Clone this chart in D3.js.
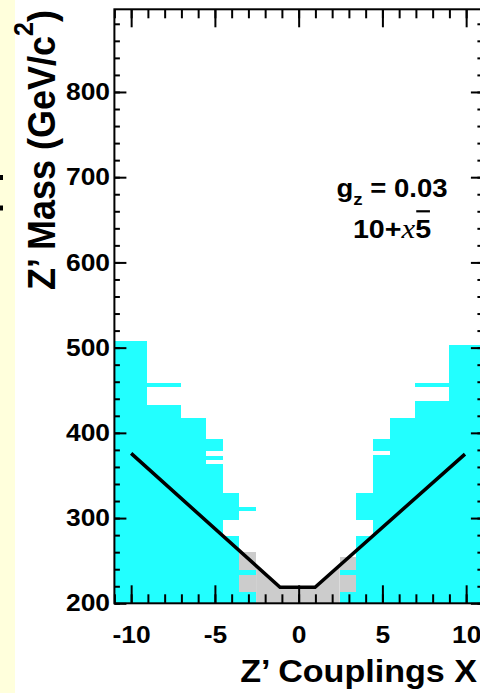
<!DOCTYPE html>
<html>
<head>
<meta charset="utf-8">
<script src="https://cdn.jsdelivr.net/npm/d3@7"></script>
<style>
  html, body { margin: 0; padding: 0; background: #ffffff; }
  svg { display: block; }
  text { font-family: "Liberation Sans", Arial, Helvetica, sans-serif; font-weight: bold; }
</style>
</head>
<body>
<svg id="chart" width="480" height="693"></svg>
<script>
// axis ticks
const xMajorTicks = [-10, -5, 0, 5, 10];
const xMinorTicks = d3.range(-11, 12, 1);
const yMajorTicks = [200, 300, 400, 500, 600, 700, 800];
const yMinorTicks = d3.range(200, 900, 20);

// excluded cells, cyan: [couplingLow, couplingHigh, massLow, massHigh]
const cyanCells = [
    [-11, -9.05, 200, 507.6],
    [-9.05, -7.02, 200, 432.6], [-9.05, -7.02, 453.3, 458],
    [-7.02, -5.53, 200, 418],
    [-5.53, -4.53, 200, 363.4], [-5.53, -4.53, 368.1, 373.1], [-5.53, -4.53, 378.6, 393],
    [-4.53, -3.54, 200, 279], [-4.53, -3.54, 297.7, 329],
    [-3.54, -2.54, 200, 213.6], [-3.54, -2.54, 233.2, 239.1], [-3.54, -2.54, 308.6, 313.3],
    [2.45, 3.45, 200, 213.6], [2.45, 3.45, 233.2, 239.1],
    [3.45, 4.45, 200, 279], [3.45, 4.45, 297.7, 329],
    [4.45, 5.45, 200, 373.6], [4.45, 5.45, 379, 393],
    [5.45, 6.95, 200, 418],
    [6.95, 8.95, 200, 437.6], [6.95, 8.95, 453.3, 458],
    [8.95, 11, 200, 503]
];

// excluded cells, grey
const greyCells = [
    [-3.54, -2.54, 213.6, 233.2], [-3.54, -2.54, 239.1, 260.5],
    [2.45, 3.45, 213.6, 233.2], [2.45, 3.45, 239.1, 254.7]
];
// grey band under the limit line in the middle
const greyEdge = [[-2.54, 244], [-1.11, 218.8], [0.98, 218.8], [2.45, 244.8]];

// expected limit line
const limitLine = [[-10, 375.9], [-1.11, 218.8], [0.98, 218.8], [9.93, 375.1]];

const svg = d3.select("#chart");
const stretch = 1.1;   // the original figure is a bit wider than tall

// left margin strip of the slide
svg.append("rect").attr("x", 0).attr("y", 0).attr("width", 15).attr("height", 693)
    .attr("fill", "#ffffdc");
svg.append("rect").attr("x", 0).attr("y", 175).attr("width", 3).attr("height", 5).attr("fill", "#000");
svg.append("rect").attr("x", 0).attr("y", 205.5).attr("width", 3).attr("height", 5).attr("fill", "#000");

// scales
const x = d3.scaleLinear().domain([-11, 11]).range([114.4, 482.9]);
const y = d3.scaleLinear().domain([200, 897]).range([603.3, 9.3]);

const body = svg.append("g");

// filled cells
body.selectAll("rect.cyan")
    .data(cyanCells)
    .enter()
        .append("rect")
        .attr("class", "cyan")
        .attr("x", d => x(d[0]))
        .attr("y", d => y(d[3]))
        .attr("width", d => x(d[1]) - x(d[0]))
        .attr("height", d => y(d[2]) - y(d[3]))
        .attr("fill", "#22ffff")
        .attr("shape-rendering", "crispEdges");

body.selectAll("rect.grey")
    .data(greyCells)
    .enter()
        .append("rect")
        .attr("class", "grey")
        .attr("x", d => x(d[0]))
        .attr("y", d => y(d[3]))
        .attr("width", d => x(d[1]) - x(d[0]))
        .attr("height", d => y(d[2]) - y(d[3]))
        .attr("fill", "#cccccc")
        .attr("shape-rendering", "crispEdges");

body.append("path")
    .datum(greyEdge)
    .attr("fill", "#cccccc")
    .attr("d", d3.area().x(d => x(d[0])).y0(y(200)).y1(d => y(d[1])));

// limit line
body.append("path")
    .datum(limitLine)
    .attr("fill", "none")
    .attr("stroke", "#000")
    .attr("stroke-width", 3.5)
    .attr("stroke-linejoin", "miter")
    .attr("d", d3.line().x(d => x(d[0])).y(d => y(d[1])));

// axes: ticks drawn inward on all four sides
function addAxis(axis, tx, ty) {
    let g = svg.append("g").attr("transform", `translate(${tx},${ty})`).call(axis);
    g.select(".domain").remove();
    g.selectAll("line").attr("stroke", "#000").attr("stroke-width", 2);
    return g;
}
addAxis(d3.axisBottom(x).tickValues(xMinorTicks).tickSize(-9).tickFormat(""), 0, y(200));
addAxis(d3.axisTop(x).tickValues(xMinorTicks).tickSize(-9).tickFormat(""), 0, y(897));
addAxis(d3.axisTop(x).tickValues(xMajorTicks).tickSize(-18).tickFormat(""), 0, y(897));
let xAxis = addAxis(d3.axisBottom(x).tickValues(xMajorTicks).tickSize(-18).tickPadding(23), 0, y(200));

addAxis(d3.axisLeft(y).tickValues(yMinorTicks).tickSize(-5.5).tickFormat(""), x(-11), 0);
addAxis(d3.axisRight(y).tickValues(yMinorTicks).tickSize(-5.5).tickFormat(""), x(11), 0);
addAxis(d3.axisRight(y).tickValues(yMajorTicks).tickSize(-12).tickFormat(""), x(11), 0);
let yAxis = addAxis(d3.axisLeft(y).tickValues(yMajorTicks).tickSize(-12).tickPadding(4), x(-11), 0);

[xAxis, yAxis].forEach(g => {
    g.selectAll("text")
        .attr("font-family", null)
        .attr("font-size", 24)
        .attr("fill", "#000")
        .attr("transform", `scale(${stretch},1)`);
});
xAxis.selectAll("text").text(d => d < 0 ? "-" + Math.abs(d) : d);

// frame
svg.append("rect")
    .attr("x", x(-11)).attr("y", y(897))
    .attr("width", x(11) - x(-11)).attr("height", y(200) - y(897))
    .attr("fill", "none").attr("stroke", "#000").attr("stroke-width", 2);

// axis titles
svg.append("text")
    .attr("transform", `translate(477,681.7) scale(${stretch},1)`)
    .attr("text-anchor", "end")
    .attr("font-size", 31)
    .text("Z\u2019 Couplings X");

let yTitle = svg.append("text")
    .attr("transform", `translate(55,10) scale(${stretch},1) rotate(-90)`)
    .attr("text-anchor", "end")
    .attr("font-size", 36);
yTitle.append("tspan").text("Z\u2019 Mass (GeV/c");
yTitle.append("tspan").attr("font-size", 25).attr("dy", -20).text("2");
yTitle.append("tspan").attr("dy", 20).text(")");

// annotation
let note = svg.append("g").attr("transform", `translate(392,196.7) scale(${stretch},1)`);
let line1 = note.append("text").attr("text-anchor", "middle").attr("font-size", 25);
line1.append("tspan").text("g");
line1.append("tspan").attr("font-size", 17).attr("dy", 8).text("z");
line1.append("tspan").attr("dy", -8).text(" = 0.03");

let line2 = note.append("text").attr("y", 41.6).attr("text-anchor", "middle").attr("font-size", 26);
line2.append("tspan").text("10+");
line2.append("tspan")
    .attr("font-family", "'Liberation Serif', 'DejaVu Serif', serif")
    .attr("font-style", "italic").attr("font-weight", "normal").attr("font-size", 28)
    .text("x");
line2.append("tspan").text("5");
let box = line2.node().getExtentOfChar(4);
note.append("line")
    .attr("x1", box.x + 1).attr("x2", box.x + box.width - 1)
    .attr("y1", 41.6 - 27).attr("y2", 41.6 - 27)
    .attr("stroke", "#000").attr("stroke-width", 2.2);
</script>
</body>
</html>
